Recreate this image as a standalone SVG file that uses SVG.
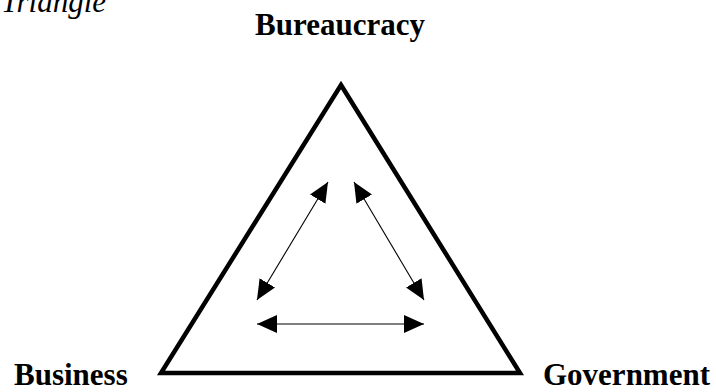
<svg xmlns="http://www.w3.org/2000/svg" width="716" height="392" viewBox="0 0 716 392">
<style>
.lbl{font-family:"Liberation Serif","Times New Roman",serif;font-size:31px;font-weight:bold;fill:#000}
.ttl{font-family:"Liberation Serif","Times New Roman",serif;font-size:31px;font-style:italic;fill:#000}
.edge{stroke:#000;stroke-width:1.1;fill:none;marker-start:url(#ah);marker-end:url(#ah)}
</style>
<defs>
<marker id="ah" markerUnits="userSpaceOnUse" markerWidth="22" markerHeight="20" refX="20" refY="9" orient="auto-start-reverse">
<path d="M0,0 L20,9 L0,18 z" fill="#000"/>
</marker>
</defs>
<rect width="716" height="392" fill="#fff"/>
<text class="ttl" x="1" y="12">Triangle</text>
<g id="triangle">
<polygon points="341,85 520,373 161,373" fill="none" stroke="#000" stroke-width="4.5" stroke-linejoin="miter"/>
</g>
<g id="bureaucracy"><text class="lbl" x="340" y="35" text-anchor="middle">Bureaucracy</text></g>
<g id="business"><text class="lbl" x="14" y="385">Business</text></g>
<g id="government"><text class="lbl" x="543" y="385">Government</text></g>
<g id="connectors">
<line class="edge" x1="328" y1="182" x2="257" y2="300"/>
<line class="edge" x1="354" y1="182" x2="424" y2="300"/>
<line class="edge" x1="257" y1="324" x2="424" y2="324"/>
</g>
</svg>
